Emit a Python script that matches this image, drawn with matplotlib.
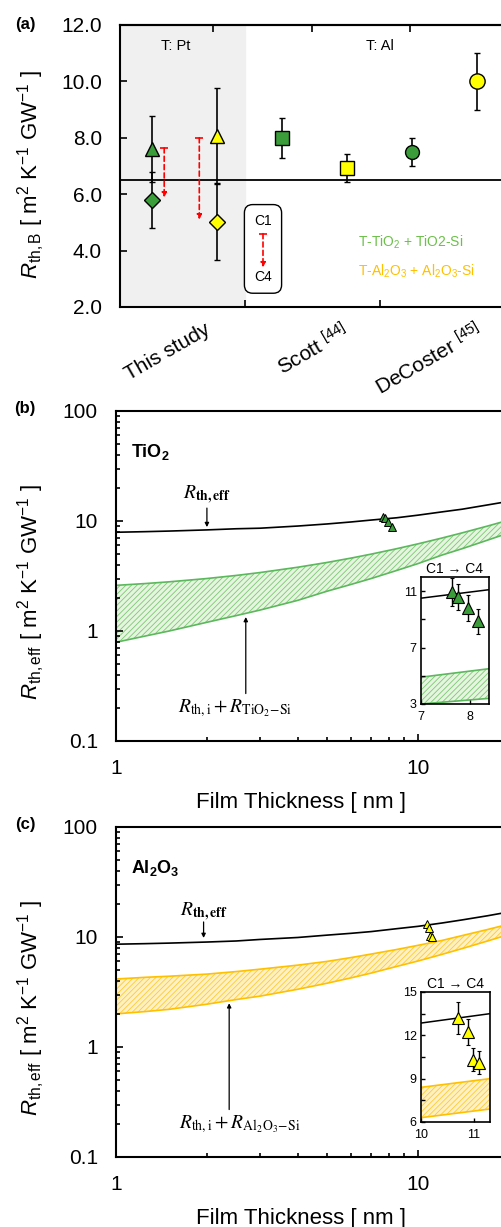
import matplotlib.pyplot as plt
import matplotlib.transforms as mtransforms
from matplotlib.ticker import NullFormatter, LogLocator

plt.rcParams['font.family'] = ['Liberation Sans', 'DejaVu Sans']
plt.rcParams['mathtext.fontset'] = 'custom'
plt.rcParams['mathtext.rm'] = 'Liberation Sans'
plt.rcParams['mathtext.it'] = 'Liberation Sans:italic'
plt.rcParams['mathtext.bf'] = 'Liberation Sans:bold'
plt.rcParams['hatch.linewidth'] = 0.6

GREEN = '#3a9d3a'
YELLOW = '#ffff00'
LEG_GREEN = '#6cc04a'
GOLD = '#ffc000'

# ---- panel (a) data: R_th,B per study (slot positions on the category axis)
cat_labels = ['This study', 'Scott $^{[44]}$', 'DeCoster $^{[45]}$']
cat_label_x = [1.30, 3.40, 5.45]
slots = [0.5, 1.5, 2.5, 3.5, 4.5, 5.5]
tio2_vals = [7.61, 5.80]          # this study, C1 (triangle) and C4 (diamond)
tio2_errs = [1.17, 1.00]
al2o3_vals = [8.05, 5.03]
al2o3_errs = [1.70, 1.35]
ref_vals = [8.00, 6.94, 7.50, 10.00]   # Scott TiO2, Scott Al2O3, DeCoster TiO2, DeCoster Al2O3
ref_errs = [0.70, 0.50, 0.50, 1.00]
arrow_x = [0.68, 1.22]
arrow_top = [7.64, 8.00]
arrow_bot = [5.88, 5.10]
ref_line = 6.5

# ---- panel (b)/(c) data: curves vs film thickness
thick = [1, 1.25, 1.5, 2, 2.5, 3, 4, 5, 6, 7, 8.5, 10, 12, 14, 17, 20, 25]
tio2_eff = [7.9, 8.0, 8.1, 8.3, 8.5, 8.6, 9.0, 9.4, 9.8, 10.2, 10.7, 11.3, 12.1, 12.8, 14.0, 15.1, 17.0]
tio2_band_hi = [2.6, 2.7, 2.8, 3.0, 3.2, 3.4, 3.8, 4.2, 4.6, 5.0, 5.6, 6.2, 7.0, 7.8, 9.0, 10.2, 12.2]
tio2_band_lo = [0.79, 0.9, 1.0, 1.2, 1.38, 1.55, 1.9, 2.3, 2.65, 3.0, 3.55, 4.1, 4.9, 5.6, 6.7, 7.8, 9.6]
al_eff = [8.6, 8.7, 8.8, 9.0, 9.2, 9.5, 9.9, 10.4, 10.8, 11.2, 11.9, 12.5, 13.4, 14.3, 15.6, 16.9, 19.1]
al_band_hi = [4.15, 4.3, 4.4, 4.6, 4.85, 5.1, 5.55, 6.0, 6.5, 7.0, 7.7, 8.4, 9.3, 10.3, 11.7, 13.1, 15.4]
al_band_lo = [2.0, 2.1, 2.2, 2.45, 2.7, 2.9, 3.35, 3.8, 4.25, 4.7, 5.4, 6.05, 6.95, 7.85, 9.2, 10.55, 12.8]

tio2_d = [7.63, 7.76, 7.96, 8.18]
tio2_r = [10.93, 10.57, 9.80, 8.86]
tio2_e = [1.0, 0.9, 0.9, 0.9]
al_d = [10.70, 10.89, 10.98, 11.09]
al_r = [13.2, 12.2, 10.3, 10.1]
al_e = [1.1, 0.9, 0.8, 0.8]

# inset ranges
tio2_in_x = [7, 8.4]
tio2_in_eff = [10.5, 11.1]
tio2_in_hi = [4.9, 5.5]
tio2_in_lo = [3.0, 3.4]
al_in_x = [10, 11.3]
al_in_eff = [12.85, 13.5]
al_in_hi = [8.4, 9.0]
al_in_lo = [6.3, 6.9]

W, H = 502, 1227
fig = plt.figure(figsize=(W / 100, H / 100), dpi=100)


def box(l, t, r, b):
    return [l / W, 1 - b / H, (r - l) / W, (b - t) / H]


def style(ax, fs=15, pad=13):
    for s in ax.spines.values():
        s.set_linewidth(1.5)
    ax.tick_params(which='both', direction='in', width=1.2, labelsize=fs, pad=pad)
    ax.tick_params(which='major', length=5)
    ax.tick_params(which='minor', length=3)


def band(ax, xs, lo, hi, col, face, hcol):
    ax.fill_between(xs, lo, hi, facecolor=face, edgecolor='none', zorder=1)
    ax.fill_between(xs, lo, hi, facecolor='none', edgecolor=hcol, hatch='//////', lw=0, zorder=1)
    ax.plot(xs, hi, color=col, lw=1.2, zorder=1)
    ax.plot(xs, lo, color=col, lw=1.2, zorder=1)


# ================= (a)
ax = fig.add_axes(box(120, 25, 510, 307))
style(ax)
ax.set_xlim(0, 6)
ax.set_ylim(2, 12)
ax.axvspan(0, 1.92, color='#f0f0f0', zorder=0)
ax.axhline(ref_line, color='black', lw=1.3, zorder=1)
ax.set_yticks([2, 4, 6, 8, 10, 12])
ax.set_yticklabels(['2.0', '4.0', '6.0', '8.0', '10.0', '12.0'])
ax.set_xticks([1.92, 4.0])
ax.set_xticklabels([])
top = ax.secondary_xaxis('top')
top.set_xticks([1.43, 2.95, 4.46])
top.set_xticklabels([])
top.tick_params(direction='in', length=5, width=1.2)
top.spines['top'].set_linewidth(1.5)

eb = dict(ecolor='black', elinewidth=1.2, capsize=2.5, capthick=1.2, mec='black', mew=1, ls='none', zorder=3)
ax.errorbar(slots[0], tio2_vals[1], yerr=tio2_errs[1], fmt='D', ms=8, mfc=GREEN, **eb)
ax.errorbar(slots[0], tio2_vals[0], yerr=tio2_errs[0], fmt='^', ms=10, mfc=GREEN, **eb)
ax.errorbar(slots[1], al2o3_vals[1], yerr=al2o3_errs[1], fmt='D', ms=8, mfc=YELLOW, **eb)
ax.errorbar(slots[1], al2o3_vals[0], yerr=al2o3_errs[0], fmt='^', ms=10, mfc=YELLOW, **eb)
ax.errorbar(slots[2], ref_vals[0], yerr=ref_errs[0], fmt='s', ms=10, mfc=GREEN, **eb)
ax.errorbar(slots[3], ref_vals[1], yerr=ref_errs[1], fmt='s', ms=10, mfc=YELLOW, **eb)
ax.errorbar(slots[4], ref_vals[2], yerr=ref_errs[2], fmt='o', ms=10, mfc=GREEN, **eb)
ax.errorbar(slots[5], ref_vals[3], yerr=ref_errs[3], fmt='o', ms=11, mfc=YELLOW, **eb)

for xa, yt, yb in zip(arrow_x, arrow_top, arrow_bot):
    ax.annotate('', xy=(xa, yb), xytext=(xa, yt),
                arrowprops=dict(arrowstyle='-|>', color='red', ls=(0, (3, 2)), lw=1.2,
                                mutation_scale=7, shrinkA=0, shrinkB=0), zorder=2)
    ax.plot(xa, yt, marker='_', color='red', ms=6, mew=1.2, zorder=2)

# C1 -> C4 key box
ax.text(2.2, 4.06, 'C1\n\n\nC4', ha='center', va='center', fontsize=10, linespacing=1.4,
        bbox=dict(boxstyle='round,pad=0.7,rounding_size=0.6', fc='white', ec='black', lw=1), zorder=4)
ax.annotate('', xy=(2.2, 3.4), xytext=(2.2, 4.6),
            arrowprops=dict(arrowstyle='-|>', color='red', ls=(0, (3, 2)), lw=1.2,
                            mutation_scale=7, shrinkA=0, shrinkB=0), zorder=5)
ax.plot(2.2, 4.6, marker='_', color='red', ms=6, mew=1.2, zorder=5)

ax.text(3.66, 4.3, 'T-TiO$_2$ + TiO2-Si', color=LEG_GREEN, fontsize=10, va='center')
ax.text(3.66, 3.28, 'T-Al$_2$O$_3$ + Al$_2$O$_3$-Si', color=GOLD, fontsize=10, va='center')
ax.text(0.86, 11.26, 'T: Pt', fontsize=10.5, ha='center', va='center')
ax.text(4.0, 11.26, 'T: Al', fontsize=10.5, ha='center', va='center')

trans = mtransforms.blended_transform_factory(ax.transData, ax.transAxes)
for lx, lab in zip(cat_label_x, cat_labels):
    ax.text(lx, -0.045, lab, transform=trans, rotation=30, rotation_mode='anchor',
            ha='right', va='top', fontsize=15)

ax.set_ylabel(r'$R_{\mathrm{th,B}}$ [ m$^2$ K$^{-1}$ GW$^{-1}$ ]', fontsize=16)
ax.yaxis.set_label_coords(-0.187, 0.47)
fig.text(25 / W, 1 - 25 / H, '(a)', fontsize=12, fontweight='bold', ha='center', va='center')


# ================= (b) and (c)
def log_panel(t, letter, name, eff, hi, lo, col, face, hcol, mfc, d, r, ann_x, ann_y, ann_txt,
              band_txt, band_ax, band_tip, band_txt_x):
    ax = fig.add_axes(box(116, t, 720, t + 330))
    style(ax)
    ax.set_xscale('log')
    ax.set_yscale('log')
    ax.set_xlim(1, 100)
    ax.set_ylim(0.1, 100)
    ax.set_yticks([0.1, 1, 10, 100])
    ax.set_yticklabels(['0.1', '1', '10', '100'])
    ax.set_xticks([1, 10])
    ax.set_xticklabels(['1', '10'])
    ax.yaxis.set_minor_locator(LogLocator(subs=range(2, 10)))
    ax.xaxis.set_minor_locator(LogLocator(subs=range(2, 10)))
    ax.yaxis.set_minor_formatter(NullFormatter())
    ax.xaxis.set_minor_formatter(NullFormatter())
    ax.tick_params(top=False, right=False, which='both')

    band(ax, thick, lo, hi, col, face, hcol)
    ax.plot(thick, eff, color='black', lw=1.2, zorder=2)
    ax.plot(d, r, ls='none', marker='^', ms=6, mfc=mfc, mec='black', mew=0.7, zorder=3)

    ax.text(ann_x, ann_y[0], ann_txt, ha='center', va='center', fontsize=14, math_fontfamily='stix')
    ax.annotate('', xy=(ann_x, ann_y[2]), xytext=(ann_x, ann_y[1]),
                arrowprops=dict(arrowstyle='-|>', color='black', lw=0.9, mutation_scale=6,
                                shrinkA=0, shrinkB=0))
    ax.annotate('', xy=(band_ax, band_tip), xytext=(band_ax, 0.27),
                arrowprops=dict(arrowstyle='-|>', color='black', lw=0.9, mutation_scale=6,
                                shrinkA=0, shrinkB=0))
    ax.text(band_txt_x, 0.2, band_txt, ha='center', va='center', fontsize=14, math_fontfamily='stix')

    ax.text(0.025, 0.875, name, transform=ax.transAxes, fontsize=13, fontweight='bold', va='center')
    ax.set_xlabel('Film Thickness [ nm ]', fontsize=16)
    ax.xaxis.set_label_coords((301 - 116) / 604, -0.155)
    ax.set_ylabel(r'$R_{\mathrm{th,eff}}$ [ m$^2$ K$^{-1}$ GW$^{-1}$ ]', fontsize=16)
    ax.yaxis.set_label_coords(-0.114, 0.45)
    fig.text(25 / W, 1 - (t - 3) / H, letter, fontsize=12, fontweight='bold', ha='center', va='center')
    return ax


log_panel(411, '(b)', 'TiO$_\\mathbf{2}$', tio2_eff, tio2_band_hi, tio2_band_lo,
          '#5cb85c', '#e6f5e0', '#7cc873', GREEN,
          tio2_d, tio2_r, 2.0, [17.2, 13.1, 8.8], r'$R_{\mathbf{th,eff}}$',
          r'$R_{\mathrm{th,i}} + R_{\mathrm{TiO_2\!-\!Si}}$', 2.69, 1.34, 2.48)
log_panel(827, '(c)', 'Al$_\\mathbf{2}$O$_\\mathbf{3}$', al_eff, al_band_hi, al_band_lo,
          GOLD, '#fff1c4', '#ffc933', YELLOW,
          al_d, al_r, 1.95, [16.9, 13.7, 9.8], r'$R_{\mathbf{th,eff}}$',
          r'$R_{\mathrm{th,i}} + R_{\mathrm{Al_2O_3\!-\!Si}}$', 2.37, 2.5, 2.57)


def inset(l, t, r, b, xs, eff, hi, lo, col, face, hcol, mfc, d, rv, e, xlim, ylim, yt, ylab, xt):
    ia = fig.add_axes(box(l, t, r, b))
    ia.set_facecolor('white')
    for s in ia.spines.values():
        s.set_linewidth(1.2)
    ia.tick_params(direction='in', length=3, width=1, labelsize=9, pad=3)
    ia.tick_params(axis='x', pad=5)
    band(ia, xs, lo, hi, col, face, hcol)
    ia.plot(xs, eff, color='black', lw=1.1, zorder=2)
    ia.errorbar(d, rv, yerr=e, fmt='^', ms=8, mfc=mfc, mec='black', mew=0.8, ecolor='black',
                elinewidth=1, capsize=1.5, capthick=1, zorder=3)
    ia.set_xlim(*xlim)
    ia.set_ylim(*ylim)
    ia.set_yticks(yt)
    ia.set_yticklabels(ylab)
    ia.set_xticks(xt)
    ia.set_xticklabels([str(v) for v in xt])
    ia.set_title('C1 \u2192 C4', fontsize=10, pad=3)


inset(421, 577, 489, 704, tio2_in_x, tio2_in_eff, tio2_in_hi, tio2_in_lo,
      '#5cb85c', '#e6f5e0', '#7cc873', GREEN,
      tio2_d, tio2_r, tio2_e, (7, 8.4), (3, 12), [3, 5, 7, 9, 11], ['3', '', '7', '', '11'], [7, 8])
inset(421, 992, 490, 1122, al_in_x, al_in_eff, al_in_hi, al_in_lo,
      GOLD, '#fff1c4', '#ffc933', YELLOW,
      al_d, al_r, al_e, (10, 11.3), (6, 15), [6, 7.5, 9, 10.5, 12, 13.5, 15],
      ['6', '', '9', '', '12', '', '15'], [10, 11])

fig.savefig('out.png', dpi=100)
